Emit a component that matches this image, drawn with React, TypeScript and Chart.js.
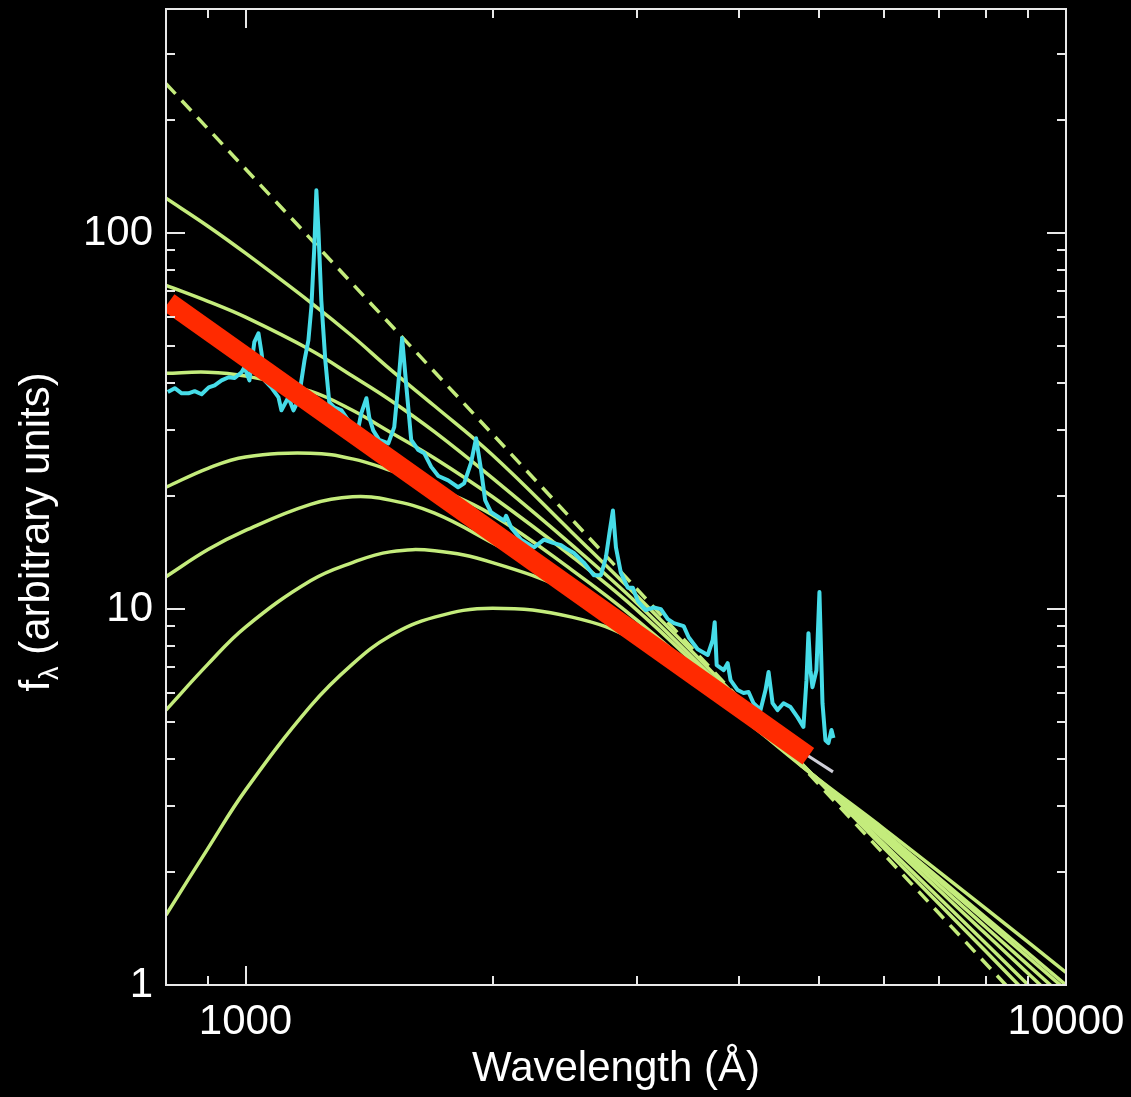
import React, { useEffect, useRef } from 'react';
import { Chart, registerables } from 'chart.js';

Chart.register(...registerables);

// ---------- data ----------
const diskLambda = [800, 900, 1000, 1200, 1350, 1500, 1700, 2000, 2500, 3000, 4000, 4900, 6000, 8000, 10000];
const disk1 = [123.9, 104.4, 88.5, 65.5, 53.2, 43.5, 34.7, 25.7, 16.0, 10.83, 5.73, 3.64, 2.314, 1.224, 0.741];
const disk2 = [72.7, 65.9, 59.8, 48.9, 41.7, 36.0, 29.6, 22.3, 14.8, 10.37, 5.59, 3.64, 2.371, 1.285, 0.797];
const disk3 = [42.4, 42.7, 41.7, 38.0, 33.8, 29.6, 25.2, 19.9, 13.8, 9.94, 5.52, 3.64, 2.445, 1.362, 0.863];
const disk4 = [21.1, 23.7, 25.4, 26.0, 25.1, 23.4, 21.1, 17.8, 12.7, 9.35, 5.42, 3.64, 2.485, 1.42, 0.918];
const disk5 = [12.2, 14.4, 16.2, 19.0, 19.9, 19.5, 18.0, 15.0, 11.5, 8.9, 5.32, 3.64, 2.524, 1.475, 0.97];
const disk6 = [5.39, 7.14, 8.96, 11.9, 13.3, 14.2, 14.3, 13.3, 11.1, 8.79, 5.29, 3.64, 2.546, 1.507, 1.0];
const disk7 = [1.535, 2.31, 3.3, 5.52, 7.14, 8.48, 9.52, 10.06, 9.52, 8.17, 5.19, 3.64, 2.604, 1.592, 1.08];

const powerLawLambda = [800, 10000];
const powerLawFlux = [250, 0.673];

const fitLambda = [806, 4853];
const fitFlux = [65.5, 4.06];

const fitTailLambda = [4800, 5200];
const fitTailFlux = [4.13, 3.69];

const specLambda = [
  804, 820, 836, 852, 867, 884, 902, 917, 935, 954,
  970, 989, 997, 1011, 1025, 1037, 1046, 1055, 1075, 1097,
  1106, 1128, 1144, 1160, 1170, 1180, 1193, 1203, 1213, 1220,
  1227, 1237, 1251, 1265, 1283, 1309, 1346, 1373, 1384, 1404,
  1415, 1431, 1455, 1493, 1518, 1535, 1552, 1570, 1592, 1624,
  1651, 1684, 1718, 1766, 1816, 1847, 1883, 1910, 1937, 1959,
  1992, 2066, 2078, 2107, 2167, 2247, 2311, 2370, 2424, 2458,
  2513, 2584, 2658, 2711, 2749, 2780, 2804, 2828, 2867, 2924,
  2965, 3007, 3075, 3145, 3208, 3271, 3327, 3420, 3468, 3557,
  3659, 3710, 3731, 3752, 3826, 3869, 3901, 3979, 4046, 4103,
  4161, 4243, 4303, 4340, 4389, 4451, 4526, 4616, 4707, 4786,
  4827, 4854, 4881, 4909, 4964, 5006, 5049, 5091, 5134, 5178, 5207,
];
const specFlux = [
  37.8, 38.7, 37.5, 37.5, 38.0, 37.3, 38.9, 39.4, 40.6, 41.4,
  41.2, 42.7, 44.0, 40.6, 51.3, 54.2, 48.0, 40.6, 38.9, 36.6,
  33.8, 36.6, 33.8, 36.0, 40.6, 45.9, 51.9, 63.6, 91.8, 130.1,
  101.9, 66.3, 45.9, 35.5, 34.4, 33.8, 30.9, 30.5, 33.2, 36.4,
  32.4, 29.9, 28.2, 27.6, 30.5, 39.4, 52.6, 39.4, 28.2, 26.5,
  26.0, 23.9, 22.6, 22.0, 21.1, 21.6, 24.5, 28.5, 23.4, 19.5,
  18.1, 17.2, 17.7, 16.5, 15.3, 14.6, 15.3, 15.0, 14.8, 14.5,
  14.1, 13.3, 12.3, 12.3, 13.7, 16.2, 18.3, 14.6, 12.5, 11.4,
  11.4, 10.5, 9.94, 10.1, 10.0, 9.41, 9.18, 9.01, 8.42, 7.82,
  7.55, 8.27, 9.23, 7.1, 6.88, 7.18, 6.47, 6.09, 5.98, 6.02,
  5.62, 5.39, 6.09, 6.8, 5.62, 5.39, 5.62, 5.49, 5.16, 4.86,
  6.47, 8.63, 6.88, 6.2, 6.88, 11.1, 5.62, 4.48, 4.4, 4.77, 4.54,
];

const xTickValues = [800, 900, 1000, 2000, 3000, 4000, 5000, 6000, 7000, 8000, 9000, 10000];
const xMajor = [1000, 10000];
const yTickValues = [1, 2, 3, 4, 5, 6, 7, 8, 9, 10, 20, 30, 40, 50, 60, 70, 80, 90, 100, 200, 300];
const yMajor = [1, 10, 100];

const xTitle = 'Wavelength (Å)';
const yTitleMain = 'f';
const yTitleSub = 'λ';
const yTitleRest = ' (arbitrary units)';

// ---------- styling ----------
const FONT = "'Liberation Sans', Arial, Helvetica, sans-serif";
const GREEN = '#c4ec7c';
const CYAN = '#46dce8';
const RED = '#ff2a00';
const AXIS = '#e8e8e8';

const pts = (xs: number[], ys: number[]) => xs.map((x, i) => ({ x, y: ys[i] }));
const isIn = (v: number, list: number[]) => list.some((m) => Math.abs(v - m) < 1e-6 * m);

const framePlugin = {
  id: 'frameTicks',
  afterDraw(chart: any) {
    const { ctx, chartArea, scales } = chart;
    const { left, right, top, bottom } = chartArea;
    const xs = scales.x;
    const ys = scales.y;
    ctx.save();
    ctx.strokeStyle = AXIS;
    ctx.lineWidth = 2;
    ctx.beginPath();
    xTickValues.forEach((v) => {
      const px = Math.round(xs.getPixelForValue(v));
      const len = isIn(v, xMajor) ? 19 : 9;
      ctx.moveTo(px, bottom);
      ctx.lineTo(px, bottom - len);
      ctx.moveTo(px, top);
      ctx.lineTo(px, top + len);
    });
    yTickValues.forEach((v) => {
      const py = Math.round(ys.getPixelForValue(v));
      const len = isIn(v, yMajor) ? 19 : 9;
      ctx.moveTo(left, py);
      ctx.lineTo(left + len, py);
      ctx.moveTo(right, py);
      ctx.lineTo(right - len, py);
    });
    ctx.stroke();
    ctx.strokeRect(left, top, right - left, bottom - top);

    // y-axis title with subscript lambda
    ctx.fillStyle = '#ffffff';
    ctx.textBaseline = 'alphabetic';
    ctx.textAlign = 'left';
    const mainFont = `42px ${FONT}`;
    const subFont = `27px ${FONT}`;
    ctx.font = mainFont;
    const wMain = ctx.measureText(yTitleMain).width;
    const wRest = ctx.measureText(yTitleRest).width;
    ctx.font = subFont;
    const wSub = ctx.measureText(yTitleSub).width;
    const total = wMain + wSub + wRest;
    ctx.translate(49, 532);
    ctx.rotate(-Math.PI / 2);
    let cx = -total / 2;
    ctx.font = mainFont;
    ctx.fillText(yTitleMain, cx, 0);
    cx += wMain;
    ctx.font = subFont;
    ctx.fillText(yTitleSub, cx, 9);
    cx += wSub;
    ctx.font = mainFont;
    ctx.fillText(yTitleRest, cx, 0);
    ctx.restore();
  },
};

export default function App() {
  const ref = useRef<HTMLCanvasElement>(null);

  useEffect(() => {
    const canvas = ref.current;
    if (!canvas) return;
    const diskSets = [disk1, disk2, disk3, disk4, disk5, disk6, disk7].map((d, i) => ({
      label: `disk ${i + 1}`,
      data: pts(diskLambda, d),
      borderColor: GREEN,
      borderWidth: 3.5,
      pointRadius: 0,
      fill: false,
      tension: 0.4,
      order: 10 + i,
    }));

    const chart = new Chart(canvas, {
      type: 'line',
      data: {
        datasets: [
          {
            label: 'fit',
            data: pts(fitLambda, fitFlux),
            borderColor: RED,
            borderWidth: 20,
            borderCapStyle: 'butt',
            pointRadius: 0,
            fill: false,
            order: 0,
          },
          {
            label: 'fit tail',
            data: pts(fitTailLambda, fitTailFlux),
            borderColor: '#cfcfd8',
            borderWidth: 3,
            pointRadius: 0,
            fill: false,
            order: 1,
          },
          {
            label: 'spectrum',
            data: pts(specLambda, specFlux),
            borderColor: CYAN,
            borderWidth: 4,
            borderJoinStyle: 'round',
            pointRadius: 0,
            fill: false,
            tension: 0,
            order: 2,
          },
          {
            label: 'power law',
            data: pts(powerLawLambda, powerLawFlux),
            borderColor: GREEN,
            borderWidth: 3.5,
            borderDash: [14, 9],
            pointRadius: 0,
            fill: false,
            order: 3,
          },
          ...diskSets,
        ],
      },
      options: {
        responsive: false,
        animation: false,
        devicePixelRatio: 1,
        layout: { padding: { left: 0, right: 65, top: 9, bottom: 0 } },
        plugins: { legend: { display: false }, tooltip: { enabled: false } },
        scales: {
          x: {
            type: 'logarithmic',
            position: 'bottom',
            min: 800,
            max: 10000,
            afterFit: (s: any) => {
              s.height = 112;
              s.paddingLeft = 0;
              s.paddingRight = 0;
            },
            grid: { display: false, drawTicks: false },
            border: { display: false },
            ticks: {
              autoSkip: false,
              maxRotation: 0,
              minRotation: 0,
              padding: 12,
              color: '#ffffff',
              font: { family: FONT, size: 42 },
              callback: (v: any) => (isIn(Number(v), xMajor) ? String(Math.round(Number(v))) : null),
            },
            title: {
              display: true,
              text: xTitle,
              color: '#ffffff',
              font: { family: FONT, size: 42 },
              padding: { top: 0, bottom: 2 },
            },
          },
          y: {
            type: 'logarithmic',
            position: 'left',
            min: 1,
            max: 395,
            afterFit: (s: any) => {
              s.width = 166;
              s.paddingTop = 0;
              s.paddingBottom = 0;
            },
            grid: { display: false, drawTicks: false },
            border: { display: false },
            ticks: {
              autoSkip: false,
              padding: 13,
              color: '#ffffff',
              font: { family: FONT, size: 42 },
              callback: (v: any) => (isIn(Number(v), yMajor) ? String(Math.round(Number(v))) : null),
            },
          },
        },
      },
      plugins: [framePlugin],
    });
    return () => chart.destroy();
  }, []);

  return (
    <div style={{ position: 'fixed', left: 0, top: 0, width: 1131, height: 1097, background: '#000' }}>
      <canvas ref={ref} width={1131} height={1097} style={{ display: 'block', width: 1131, height: 1097 }} />
    </div>
  );
}
